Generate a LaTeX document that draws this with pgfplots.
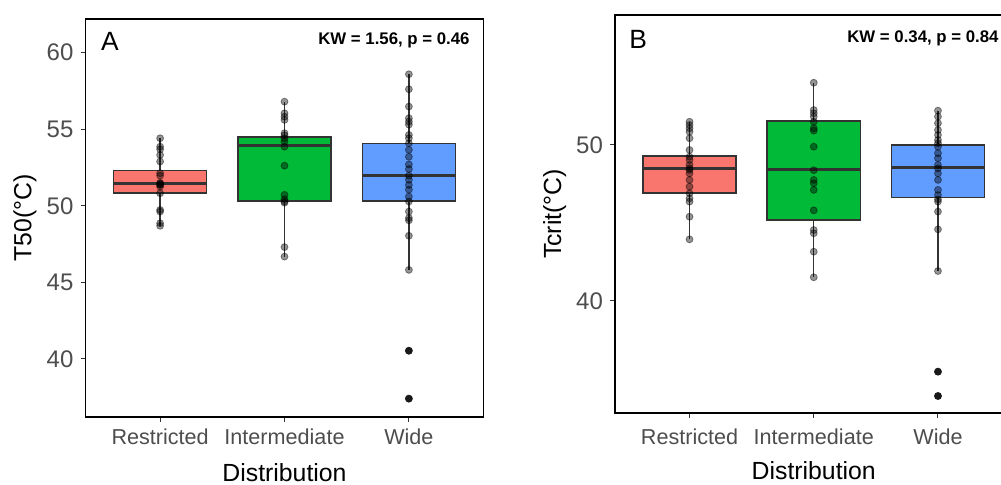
\documentclass[border=0pt]{standalone}
\usepackage{fontspec}
\setmainfont{Liberation Sans}
\usepackage{pgfplots}
\pgfplotsset{compat=1.18}

\definecolor{boxred}{HTML}{F8766D}
\definecolor{boxgreen}{HTML}{00BA38}
\definecolor{boxblue}{HTML}{619CFF}
\definecolor{grey20}{HTML}{333333}
\definecolor{grey30}{HTML}{4D4D4D}

\pgfplotsset{
  panel/.style={
    anchor=south west, scale only axis,
    width=199pt, height=199pt,
    xmin=0.4, xmax=3.6,
    xtick={1,2,3}, xticklabels={Restricted,Intermediate,Wide},
    tick pos=left, tick align=outside, major tick length=2.5pt,
    every tick/.style={draw=grey20, line width=0.5pt},
    axis line style={line width=0.6pt},
    /pgf/number format/assume math mode=true,
    xticklabel style={font=\fontsize{10.8}{12}\selectfont, text=grey30},
    yticklabel style={font=\fontsize{12}{14}\selectfont, text=grey30},
    xlabel={Distribution},
    every axis x label/.style={at={(axis description cs:0.5,-0.14)}, anchor=center,
      font=\fontsize{12.4}{14}\selectfont},
    every axis y label/.style={at={(axis description cs:-0.152,0.5)}, anchor=center,
      rotate=90, font=\fontsize{12.4}{14}\selectfont},
  },
  whisk/.style={draw=grey20, line width=0.7pt},
  bx/.style={draw=grey20, line width=0.7pt, fill=#1},
  med/.style={draw=grey20, line width=1.5pt},
  pts/.style={only marks, mark=*, mark size=1.75pt,
    mark options={fill=black, draw=black, opacity=0.42}},
  outl/.style={only marks, mark=*, mark size=1.75pt,
    mark options={fill=black!90, draw=black!90}},
}

\begin{document}
\begin{tikzpicture}

% Panel A
\begin{axis}[panel, at={(42.75pt,33.5pt)},
    ymin=36.2, ymax=62.2, ytick={40,45,50,55,60},
    ylabel={T50(°C)}]

  % whiskers
  \addplot[whisk] coordinates {(1,48.69) (1,54.41)};
  \addplot[whisk] coordinates {(2,46.68) (2,56.80)};
  \addplot[whisk] coordinates {(3,45.81) (3,58.59)};
  % boxes (quartiles)
  \addplot[bx=boxred] coordinates {(0.625,50.84) (1.375,50.84) (1.375,52.30) (0.625,52.30)} -- cycle;
  \addplot[bx=boxgreen] coordinates {(1.625,50.32) (2.375,50.32) (2.375,54.50) (1.625,54.50)} -- cycle;
  \addplot[bx=boxblue] coordinates {(2.625,50.32) (3.375,50.32) (3.375,54.08) (2.625,54.08)} -- cycle;
  % medians
  \addplot[med] coordinates {(0.625,51.45) (1.375,51.45)};
  \addplot[med] coordinates {(1.625,53.93) (2.375,53.93)};
  \addplot[med] coordinates {(2.625,51.97) (3.375,51.97)};

  \addplot[pts] coordinates {
    (1,54.41) (1,53.86) (1,53.69) (1,53.32) (1,52.89) (1,52.13) (1,51.97)
    (1,51.50) (1,51.45) (1,51.40) (1,51.36) (1,51.25) (1,50.82) (1,49.73)
    (1,49.62) (1,48.86) (1,48.69)
  };
  \addplot[pts] coordinates {
    (2,56.80) (2,56.04) (2,55.82) (2,55.61) (2,54.74) (2,54.60) (2,54.41)
    (2,54.20) (2,53.86) (2,52.62) (2,50.71) (2,50.43) (2,50.28) (2,50.20)
    (2,47.30) (2,46.68)
  };
  \addplot[pts] coordinates {
    (3,58.59) (3,57.61) (3,56.48) (3,55.72) (3,55.50) (3,55.30) (3,54.63)
    (3,54.41) (3,54.08) (3,53.65) (3,53.20) (3,52.70) (3,52.40) (3,51.97)
    (3,51.70) (3,51.36) (3,51.05) (3,50.60) (3,50.28) (3,49.62) (3,49.20)
    (3,49.05) (3,48.04) (3,45.81)
  };
  \addplot[outl] coordinates {(3,40.53) (3,37.40)};

  \node[anchor=base west, inner sep=0pt, font=\fontsize{13.2}{15}\selectfont]
    at (rel axis cs:0.038,0.922) {A};
  \node[anchor=base east, inner sep=0pt, font=\bfseries\fontsize{8.4}{10}\selectfont]
    at (rel axis cs:0.966,0.935) {KW = 1.56, p = 0.46};
\end{axis}

% Panel B
\begin{axis}[panel, at={(307.5pt,35.5pt)}, width=198.75pt,
    ymin=32.82, ymax=58.33, ytick={40,50},
    ylabel={Tcrit(°C)},
    xticklabel style={yshift=-2pt},
    every axis x label/.append style={at={(axis description cs:0.5,-0.145)}}]

  \addplot[whisk] coordinates {(1,43.95) (1,51.49)};
  \addplot[whisk] coordinates {(2,41.52) (2,53.99)};
  \addplot[whisk] coordinates {(3,41.92) (3,52.20)};
  \addplot[bx=boxred] coordinates {(0.625,46.92) (1.375,46.92) (1.375,49.29) (0.625,49.29)} -- cycle;
  \addplot[bx=boxgreen] coordinates {(1.625,45.19) (2.375,45.19) (2.375,51.54) (1.625,51.54)} -- cycle;
  \addplot[bx=boxblue] coordinates {(2.625,46.62) (3.375,46.62) (3.375,50.00) (2.625,50.00)} -- cycle;
  \addplot[med] coordinates {(0.625,48.50) (1.375,48.50)};
  \addplot[med] coordinates {(1.625,48.42) (2.375,48.42)};
  \addplot[med] coordinates {(2.625,48.53) (3.375,48.53)};

  \addplot[pts] coordinates {
    (1,51.49) (1,51.28) (1,51.07) (1,50.85) (1,50.43) (1,49.68) (1,49.25)
    (1,49.04) (1,48.72) (1,48.50) (1,48.40) (1,48.18) (1,47.76) (1,47.33)
    (1,46.90) (1,46.58) (1,46.37) (1,45.40) (1,43.95)
  };
  \addplot[pts] coordinates {
    (2,53.99) (2,52.24) (2,52.03) (2,51.82) (2,51.49) (2,51.07) (2,50.92)
    (2,49.89) (2,48.38) (2,47.76) (2,47.54) (2,47.12) (2,45.81) (2,44.55)
    (2,44.34) (2,43.16) (2,41.52)
  };
  \addplot[pts] coordinates {
    (3,52.20) (3,51.82) (3,51.39) (3,50.96) (3,50.64) (3,50.32) (3,50.11)
    (3,49.89) (3,49.47) (3,49.15) (3,48.72) (3,48.50) (3,48.18) (3,47.76)
    (3,47.12) (3,46.79) (3,46.52) (3,46.37) (3,45.73) (3,44.59) (3,41.92)
  };
  \addplot[outl] coordinates {(3,35.47) (3,33.91)};

  \node[anchor=base west, inner sep=0pt, font=\fontsize{13.2}{15}\selectfont]
    at (rel axis cs:0.035,0.916) {B};
  \node[anchor=base east, inner sep=0pt, font=\bfseries\fontsize{8.4}{10}\selectfont]
    at (rel axis cs:0.966,0.931) {KW = 0.34, p = 0.84};
\end{axis}

\pgfresetboundingbox
\path[use as bounding box] (0,0) rectangle (500.5pt,242pt);
\end{tikzpicture}
\end{document}
